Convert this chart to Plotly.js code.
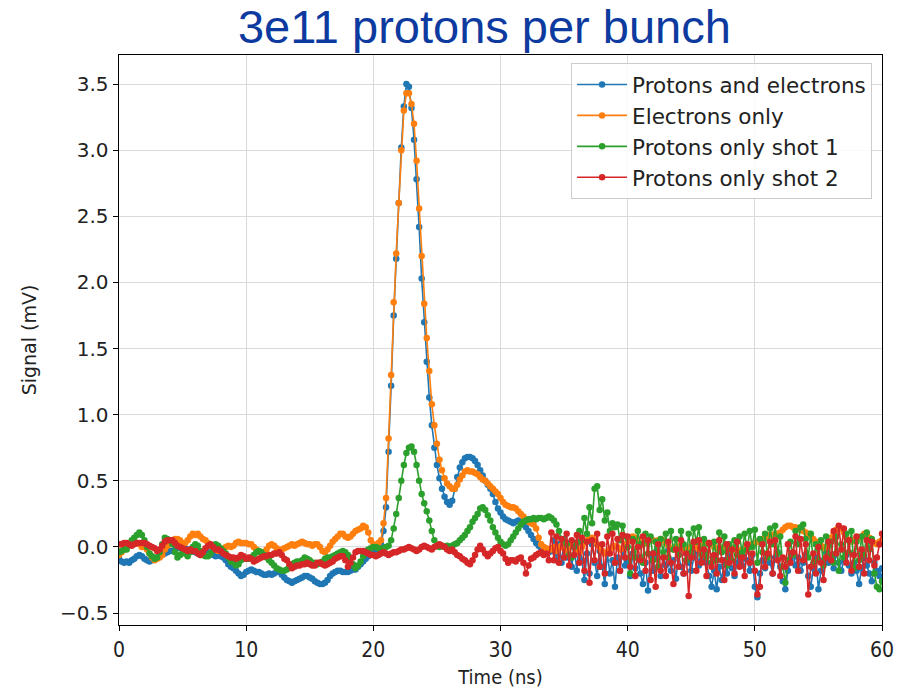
<!DOCTYPE html>
<html>
<head>
<meta charset="utf-8">
<script src="https://cdn.plot.ly/plotly-3.0.1.min.js"></script>
<style>html,body{margin:0;padding:0;background:#fff;}#chart{width:897px;height:689px;}</style>
</head>
<body>
<div id="chart"></div>
<script>
// Sampling of the time axis (ns)
const timeStart = 0;
const timeStep = 0.2;

const seriesNames = ["Protons and electrons", "Electrons only", "Protons only shot 1", "Protons only shot 2"];

// Signal (mV), one value every 0.2 ns from 0 to 60 ns
const protonsAndElectrons = [
-0.09,-0.11,-0.12,-0.11,-0.12, -0.10,-0.09,-0.07,-0.06,-0.07, -0.09,-0.10,-0.11,-0.10,-0.09, -0.08,-0.07,-0.06,-0.05,-0.04,
-0.03,-0.03,-0.02,-0.01,0.00, 0.00,-0.01,-0.02,-0.03,-0.03, -0.04,-0.05,-0.06,-0.05,-0.04, -0.04,-0.05,-0.06,-0.07,-0.06,
-0.07,-0.08,-0.10,-0.13,-0.15, -0.16,-0.18,-0.20,-0.22,-0.21, -0.19,-0.18,-0.17,-0.18,-0.19, -0.19,-0.20,-0.21,-0.21,-0.20,
-0.21,-0.20,-0.19,-0.19,-0.21, -0.23,-0.25,-0.26,-0.27,-0.26, -0.25,-0.24,-0.23,-0.22,-0.22, -0.23,-0.24,-0.26,-0.27,-0.28,
-0.28,-0.27,-0.25,-0.22,-0.20, -0.19,-0.18,-0.18,-0.19,-0.19, -0.19,-0.18,-0.17,-0.17,-0.15, -0.13,-0.11,-0.09,-0.07,-0.05,
-0.03,-0.02,-0.01,0.02,0.12, 0.30,0.72,1.22,1.75,2.18, 2.60,3.02,3.33,3.50,3.48, 3.32,3.08,2.78,2.42,2.03,
1.70,1.40,1.13,0.92,0.75, 0.62,0.52,0.44,0.38,0.34, 0.32,0.35,0.44,0.53,0.60, 0.64,0.67,0.68,0.68,0.67,
0.65,0.62,0.58,0.54,0.50, 0.47,0.44,0.40,0.34,0.29, 0.26,0.23,0.21,0.20,0.19, 0.18,0.19,0.20,0.19,0.17,
0.15,0.12,0.09,0.06,0.03, 0.01,-0.01,-0.03,-0.04,-0.04, -0.03,0.05,-0.10,0.02,-0.12, 0.06,-0.08,0.03,-0.15,0.00,
-0.18,0.04,-0.10,-0.25,-0.05, -0.20,0.02,-0.12,-0.22,-0.03, -0.15,-0.28,-0.05,-0.20,-0.10, -0.30,-0.08,-0.18,-0.02,-0.14,
-0.10,-0.22,-0.05,-0.16,-0.08, -0.20,-0.28,-0.12,-0.33,-0.06, -0.18,-0.04,-0.15,-0.22,-0.08, -0.14,-0.02,-0.18,-0.10,-0.24,
-0.06,-0.15,-0.20,-0.05,-0.12, -0.18,-0.08,-0.03,-0.14,-0.10, -0.04,-0.12,-0.22,-0.30,-0.18, -0.32,-0.15,-0.25,-0.10,-0.20,
-0.06,-0.16,-0.22,-0.12,-0.08, -0.14,-0.04,-0.10,-0.18,-0.06, -0.30,-0.38,-0.20,-0.10,-0.16, -0.06,-0.12,-0.20,-0.08,-0.04,
-0.15,-0.26,-0.32,-0.18,-0.10, -0.05,-0.14,-0.08,-0.18,-0.12, -0.06,-0.22,-0.30,-0.16,-0.08, -0.32,-0.18,-0.10,-0.04,-0.12,
-0.08,-0.16,-0.05,-0.12,-0.18, -0.10,-0.06,-0.14,-0.20,-0.12, -0.18,-0.28,-0.16,-0.08,-0.14, -0.20,-0.26,-0.12,-0.18,-0.22,
-0.16
];

const electronsOnly = [
-0.06,-0.04,-0.02,0.00,0.02, 0.02,0.03,0.03,0.02,0.00, 0.00,-0.02,-0.05,-0.08,-0.10, -0.09,-0.08,-0.06,-0.02,0.01,
0.02,0.04,0.06,0.06,0.05, 0.03,0.03,0.05,0.08,0.10, 0.09,0.10,0.08,0.06,0.05, 0.03,0.01,0.00,-0.02,-0.03,
-0.03,-0.02,0.00,0.01,0.00, 0.01,0.03,0.04,0.03,0.03, 0.03,0.02,0.02,0.00,-0.02, -0.03,-0.05,-0.04,-0.02,0.01,
0.02,0.01,-0.01,-0.03,-0.02, -0.01,0.00,0.01,0.02,0.01, 0.02,0.03,0.04,0.03,0.02, 0.02,0.01,0.02,0.02,0.00,
-0.03,-0.04,-0.02,0.01,0.04, 0.06,0.08,0.10,0.10,0.08, 0.07,0.08,0.10,0.12,0.13, 0.14,0.16,0.15,0.11,0.05,
0.02,0.01,0.03,0.05,0.18, 0.37,0.82,1.30,1.85,2.22, 2.60,3.00,3.30,3.43,3.43, 3.35,3.20,2.92,2.56,2.20,
1.84,1.58,1.33,1.08,0.92, 0.78,0.66,0.58,0.52,0.48, 0.46,0.44,0.44,0.47,0.51, 0.54,0.57,0.58,0.57,0.57,
0.56,0.55,0.53,0.51,0.50, 0.48,0.46,0.44,0.42,0.40, 0.37,0.34,0.32,0.31,0.30, 0.30,0.29,0.27,0.25,0.23,
0.21,0.19,0.18,0.17,0.14, 0.07,0.02,0.00,-0.01,-0.02, -0.02,0.00,-0.03,-0.01,0.01, -0.01,-0.03,0.00,0.02,0.01,
-0.02,-0.04,0.00,0.03,0.05, 0.06,0.07,0.05,0.02,0.00, -0.03,-0.05,-0.04,-0.02,0.00, 0.01,0.00,-0.02,-0.01,0.02,
0.04,0.06,0.08,0.07,0.05, 0.03,0.02,0.03,0.05,0.06, 0.05,0.04,0.05,0.06,0.05, 0.03,0.01,-0.01,-0.02,0.00,
0.01,0.00,-0.02,-0.03,-0.01, 0.01,0.02,0.00,-0.02,0.00, 0.02,0.03,0.03,0.02,0.00, -0.01,-0.02,-0.01,0.00,-0.01,
-0.02,-0.01,-0.02,-0.03,-0.03, -0.02,-0.03,0.00,0.01,0.02, 0.03,0.04,0.05,0.06,0.07, 0.08,0.09,0.09,0.10,0.10,
0.11,0.13,0.15,0.16,0.16, 0.15,0.15,0.14,0.13,0.12, 0.11,0.10,0.08,0.06,0.04, 0.02,0.01,-0.01,0.00,0.03,
0.07,0.10,0.13,0.15,0.14, 0.11,0.07,0.05,0.04,0.05, 0.06,0.07,0.08,0.10,0.09, 0.07,0.05,0.03,0.02,0.04,
0.05
];

const protonsShot1 = [
-0.04,-0.03,-0.02,-0.02,0.02, 0.05,0.07,0.09,0.11,0.09, 0.05,0.00,-0.05,-0.07,-0.09, -0.08,-0.04,0.02,0.07,0.06,
0.05,0.02,-0.04,-0.08,-0.06, -0.03,-0.05,-0.07,-0.04,0.00, 0.02,0.01,-0.03,-0.06,-0.07, -0.07,-0.05,-0.02,0.02,0.01,
-0.01,-0.03,-0.05,-0.08,-0.11, -0.12,-0.14,-0.13,-0.10,-0.09, -0.09,-0.09,-0.08,-0.06,-0.04, -0.03,-0.04,-0.06,-0.08,-0.10,
-0.12,-0.14,-0.16,-0.17,-0.18, -0.18,-0.17,-0.15,-0.13,-0.12, -0.11,-0.11,-0.10,-0.08,-0.09, -0.10,-0.12,-0.12,-0.13,-0.12,
-0.11,-0.09,-0.08,-0.08,-0.07, -0.06,-0.05,-0.04,-0.03,-0.04, -0.06,-0.08,-0.13,-0.16,-0.14, -0.11,-0.07,-0.03,-0.02,-0.01,
0.00,0.00,-0.01,-0.02,-0.01, 0.00,0.01,0.05,0.14,0.25, 0.37,0.50,0.62,0.71,0.75, 0.76,0.72,0.62,0.50,0.40,
0.33,0.27,0.20,0.12,0.05, 0.01,0.00,0.01,0.00,0.01, 0.00,0.01,0.02,0.03,0.05, 0.07,0.09,0.12,0.15,0.19,
0.22,0.25,0.29,0.30,0.28, 0.24,0.20,0.15,0.11,0.07, 0.04,0.02,0.01,0.02,0.05, 0.08,0.11,0.14,0.17,0.19,
0.20,0.21,0.21,0.22,0.21, 0.22,0.22,0.21,0.22,0.23, 0.22,0.20,0.17,0.12,0.06, 0.05,0.02,-0.06,-0.08,0.00,
0.03,0.12,0.05,0.22,0.10, 0.30,0.18,0.44,0.46,0.28, 0.36,0.20,0.26,0.12,0.18, 0.15,0.17,0.05,0.16,0.08,
0.00,-0.20,0.06,-0.08,0.12, 0.02,-0.12,0.10,-0.05,0.08, -0.10,0.04,-0.15,0.06,-0.04, 0.10,-0.08,0.12,-0.02,0.06,
-0.06,0.12,0.02,-0.10,0.10, -0.04,0.14,0.04,0.15,-0.06, 0.06,-0.08,0.02,-0.12,0.04, -0.10,0.11,-0.04,0.08,-0.14,
0.02,-0.10,0.05,-0.06,0.08, -0.04,0.10,-0.02,0.12,0.00, 0.13,-0.12,0.06,-0.04,0.10, -0.08,0.14,0.02,0.16,-0.05,
0.08,-0.15,-0.27,-0.10,0.04, -0.06,0.12,0.02,0.15,0.17, 0.06,-0.08,0.10,-0.12,0.02, -0.10,0.05,-0.14,0.08,-0.06,
0.04,-0.12,0.08,-0.18,0.02, -0.08,0.10,-0.04,0.12,-0.16, 0.04,-0.10,0.08,-0.06,0.11, -0.02,0.06,-0.20,-0.30,-0.32,
-0.26
];

const protonsShot2 = [
0.02,0.02,0.03,0.03,0.02, 0.01,0.02,0.03,0.03,0.03, 0.03,0.02,0.01,0.00,-0.01, -0.03,-0.02,0.01,0.04,0.05,
0.05,0.05,0.03,0.01,0.00, -0.01,-0.02,-0.03,-0.02,-0.03, -0.03,-0.05,-0.06,-0.04,-0.01, 0.01,0.02,0.00,-0.02,-0.02,
-0.03,-0.05,-0.06,-0.07,-0.08, -0.08,-0.09,-0.08,-0.06,-0.07, -0.09,-0.08,-0.09,-0.11,-0.10, -0.09,-0.08,-0.07,-0.07,-0.06,
-0.06,-0.05,-0.05,-0.04,-0.06, -0.09,-0.10,-0.13,-0.16,-0.15, -0.14,-0.14,-0.13,-0.13,-0.12, -0.13,-0.14,-0.14,-0.12,-0.12,
-0.13,-0.14,-0.13,-0.12,-0.11, -0.09,-0.08,-0.07,-0.07,-0.10, -0.15,-0.12,-0.08,-0.04,-0.03, -0.03,-0.03,-0.04,-0.05,-0.06,
-0.06,-0.07,-0.06,-0.05,-0.04, -0.05,-0.06,-0.05,-0.04,-0.04, -0.03,-0.02,-0.02,-0.01,0.00, -0.01,-0.02,-0.03,-0.02,0.00,
0.01,0.00,-0.01,-0.02,0.00, 0.01,0.02,0.01,0.00,-0.02, -0.03,-0.02,-0.04,-0.06,-0.07, -0.09,-0.10,-0.12,-0.13,-0.10,
-0.06,-0.02,0.01,-0.02,-0.05, -0.07,-0.05,-0.03,-0.01,0.00, -0.03,-0.05,-0.09,-0.12,-0.10, -0.10,-0.11,-0.09,-0.08,-0.12,
-0.20,-0.14,-0.09,-0.08,-0.06, -0.05,-0.04,-0.06,-0.05,-0.10, 0.11,-0.10,0.08,-0.12,0.06, -0.08,0.10,-0.14,0.05,-0.06,
0.09,-0.12,0.07,-0.18,0.04, -0.27,0.05,-0.10,0.10,-0.15, 0.02,-0.20,0.08,-0.05,0.10, -0.12,0.06,-0.18,0.09,-0.08,
0.08,-0.15,0.04,-0.22,0.00, -0.10,0.08,-0.18,0.05,-0.25, -0.05,-0.30,0.02,-0.18,-0.08, -0.22,0.04,-0.12,-0.28,-0.02,
-0.15,0.05,-0.20,-0.05,-0.37, -0.08,0.04,-0.18,0.05,-0.12, -0.02,-0.22,0.03,-0.15,-0.06, -0.20,0.05,-0.10,-0.25,0.02,
-0.12,-0.02,-0.20,0.04,-0.15, -0.08,-0.22,0.02,-0.12,-0.05, -0.18,-0.36,-0.30,0.02,-0.15, -0.05,0.04,-0.20,0.05,-0.10,
-0.22,-0.08,-0.15,0.02,-0.12, -0.04,0.08,-0.18,0.06,-0.10, 0.02,-0.36,-0.15,-0.05,-0.20, 0.00,-0.12,-0.25,-0.08,0.04,
-0.10,0.12,-0.05,0.16,-0.02, 0.14,-0.12,0.05,-0.18,-0.06, 0.08,-0.15,-0.02,-0.20,0.05, -0.10,0.04,-0.14,-0.08,0.02,
0.10
];

const seriesColors = ["#1f77b4", "#ff7f0e", "#2ca02c", "#d62728"];
const allSeries = [protonsAndElectrons, electronsOnly, protonsShot1, protonsShot2];

const traces = allSeries.map((vals, i) => ({
  type: "scatter",
  mode: "lines+markers",
  name: seriesNames[i],
  x0: timeStart,
  dx: timeStep,
  y: vals,
  line: {color: seriesColors[i], width: 1.6},
  marker: {color: seriesColors[i], size: 6.5}
}));

const layout = {
  width: 897,
  height: 689,
  margin: {l: 119, r: 15, t: 55, b: 64},
  paper_bgcolor: "#ffffff",
  plot_bgcolor: "#ffffff",
  showlegend: true,
  title: {
    text: "3e11 protons per bunch",
    font: {family: "Liberation Sans, Arial, sans-serif", size: 47, color: "#0d3a9f"},
    x: 0.54, xref: "container", xanchor: "center",
    y: 0.962, yref: "container", yanchor: "middle"
  },
  xaxis: {
    range: [0, 60],
    dtick: 10,
    tick0: 0,
    showgrid: true,
    gridcolor: "#dadada",
    gridwidth: 1,
    zeroline: false,
    showline: true,
    linecolor: "#000",
    linewidth: 1.4,
    mirror: true,
    ticks: "outside",
    ticklen: 5,
    tickcolor: "#000",
    tickfont: {family: "DejaVu Sans Condensed, DejaVu Sans", size: 21, color: "#222"},
    title: {text: "Time (ns)", font: {family: "DejaVu Sans Condensed, DejaVu Sans", size: 20, color: "#222"}, standoff: 12}
  },
  yaxis: {
    range: [-0.59, 3.72],
    dtick: 0.5,
    tick0: 0,
    tickformat: ".1f",
    showgrid: true,
    gridcolor: "#dadada",
    gridwidth: 1,
    zeroline: false,
    showline: true,
    linecolor: "#000",
    linewidth: 1.4,
    mirror: true,
    ticks: "outside",
    ticklen: 5,
    tickcolor: "#000",
    tickfont: {family: "DejaVu Sans", size: 20, color: "#222"},
    title: {text: "Signal (mV)", font: {family: "DejaVu Sans", size: 19, color: "#222"}, standoff: 18}
  },
  legend: {
    x: 0.987, xanchor: "right",
    y: 0.986, yanchor: "top",
    bgcolor: "rgba(255,255,255,0.85)",
    bordercolor: "#cccccc",
    borderwidth: 1,
    itemwidth: 50,
    font: {family: "DejaVu Sans", size: 21.5, color: "#222"}
  }
};

Plotly.newPlot("chart", traces, layout, {staticPlot: true, displayModeBar: false});
</script>
</body>
</html>
